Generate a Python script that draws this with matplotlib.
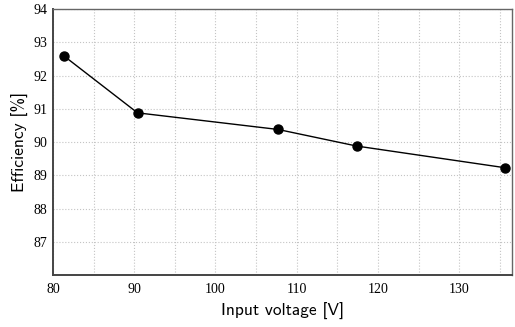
import numpy as np
import matplotlib
matplotlib.use('Agg')
import matplotlib.pyplot as plt
from matplotlib.ticker import MultipleLocator

# data
voltage = [81.3, 90.4, 107.7, 117.4, 135.6]
efficiency = [92.6, 90.88, 90.38, 89.88, 89.23]

fig = plt.figure(figsize=(5.15, 3.27), dpi=100)
ax = fig.add_axes([0.103, 0.159, 0.891, 0.813])

ax.plot(voltage, efficiency, color='black', linewidth=1.0,
        marker='o', markersize=6.5, zorder=3)

ax.set_xlim(80, 136.5)
ax.set_ylim(86, 94)
ax.xaxis.set_major_locator(MultipleLocator(10))
ax.xaxis.set_minor_locator(MultipleLocator(5))
ax.set_yticks(np.arange(87, 95, 1))
ax.grid(which='both', color='#c4c4c4', linestyle=':', linewidth=0.8)

ax.tick_params(which='both', length=0, labelsize=10,
               labelfontfamily='Liberation Serif')
ax.tick_params(axis='x', pad=6)
ax.tick_params(axis='y', pad=4)

for side in ['left', 'bottom']:
    ax.spines[side].set_color('#444444')
    ax.spines[side].set_linewidth(1.4)
for side in ['top', 'right']:
    ax.spines[side].set_color('#666666')
    ax.spines[side].set_linewidth(1.0)

ax.set_xlabel('Input voltage [V]', family='cmss10', fontsize=12.5, labelpad=5)
ax.set_ylabel('Efficiency [%]', family='cmss10', fontsize=12.5, labelpad=3)

fig.savefig('out.png', dpi=100)
